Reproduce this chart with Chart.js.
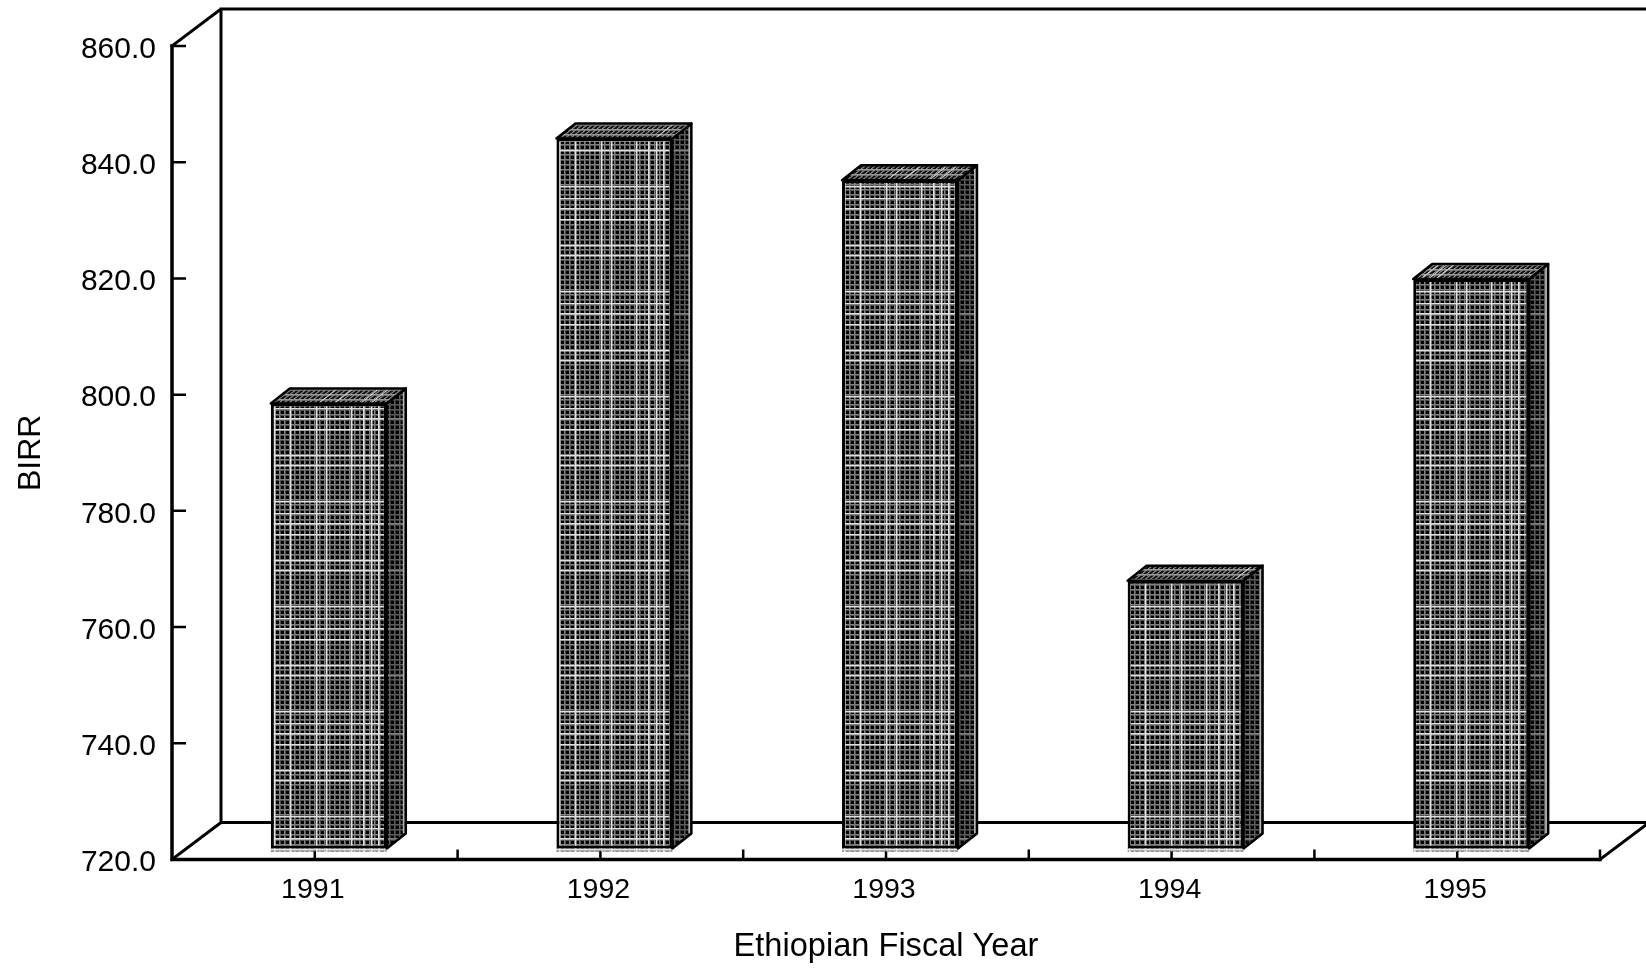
<!DOCTYPE html>
<html>
<head>
<meta charset="utf-8">
<style>html,body{margin:0;padding:0;background:#fff;overflow:hidden}canvas{display:block}</style>
<script src="https://cdn.jsdelivr.net/npm/chart.js@4/dist/chart.umd.min.js"></script>
</head>
<body>
<canvas id="c" width="1646" height="968"></canvas>
<script>
const categories = ['1991', '1992', '1993', '1994', '1995'];
const birrValues = [796.6, 842.2, 835.0, 766.1, 818.0];
const yTickMin = 720, yTickMax = 860, yTickStep = 20;
const yAxisTitle = 'BIRR';
const xAxisTitle = 'Ethiopian Fiscal Year';

const FONT = '"Liberation Sans", Arial, sans-serif';
const DX = 19, DY = -15, SHIFT_X = 14, SHIFT_Y = -11;
const WALL_DX = 49, WALL_DY = -37;

function makeWeave(base, dot, light, whiteXs, whiteYs, lineCol) {
  const cell = 5, w = 285, h = 105;
  const raw = document.createElement('canvas');
  raw.width = w; raw.height = h;
  const g = raw.getContext('2d');
  g.fillStyle = base; g.fillRect(0, 0, w, h);
  g.fillStyle = light;
  for (let x = 0; x < w; x += cell) g.fillRect(x, 0, 1, h);
  for (let y = 0; y < h; y += cell) g.fillRect(0, y, w, 1);
  g.fillStyle = dot;
  for (let x = 0; x < w; x += cell) for (let y = 0; y < h; y += cell) g.fillRect(x + 2, y + 2, 3, 3);
  g.fillStyle = lineCol;
  whiteXs.forEach(x => g.fillRect(x, 0, 1.5, h));
  whiteYs.forEach(y => g.fillRect(0, y, w, 1.5));
  const t = document.createElement('canvas');
  t.width = w; t.height = h;
  const f = t.getContext('2d');
  f.drawImage(raw, 0, 0);
  f.filter = 'blur(0.6px)';
  f.drawImage(raw, 0, 0);
  return f.createPattern(t, 'repeat');
}
const ctxMain = document.getElementById('c').getContext('2d');
const frontWeave = makeWeave('#4e4e4e', '#000', '#808080',
  [260, 276, 17, 27, 52, 64, 72, 79], [104, 9, 20, 46, 56, 92], '#e0e0e0');
const sideWeave = makeWeave('#343434', '#000', '#5c5c5c', [], [9, 56], '#808080');
const topWeave = makeWeave('#666666', '#111', '#999999', [260, 276, 17, 27, 52, 64, 72, 79], [], '#d8d8d8');
topWeave.setTransform(new DOMMatrix([1, 0, -1.27, 1, 0, 0]));

const frame3d = {
  id: 'frame3d',
  beforeDatasetsDraw(chart) {
    const { ctx, scales: { x, y }, chartArea: a } = chart;
    const half = (x.getPixelForValue(1) - x.getPixelForValue(0)) / 2;
    ctx.save();
    ctx.strokeStyle = '#000';
    ctx.lineCap = 'square';
    ctx.lineWidth = 3;
    const L = a.left, R = a.right, T = a.top, B = a.bottom;
    const back = new Path2D();
    back.moveTo(L, T); back.lineTo(L + WALL_DX, T + WALL_DY);
    back.lineTo(R + 100, T + WALL_DY);
    back.moveTo(L + WALL_DX, T + WALL_DY); back.lineTo(L + WALL_DX, B + WALL_DY);
    back.lineTo(R + 100, B + WALL_DY);
    back.moveTo(L, B); back.lineTo(L + WALL_DX, B + WALL_DY);
    back.moveTo(R, B); back.lineTo(R + WALL_DX, B + WALL_DY);
    ctx.stroke(back);
    ctx.lineWidth = 3.5;
    ctx.beginPath();
    ctx.moveTo(L, T); ctx.lineTo(L, B); ctx.lineTo(R, B);
    ctx.stroke();
    ctx.lineWidth = 2.5;
    ctx.lineCap = 'butt';
    ctx.beginPath();
    y.ticks.forEach(t => {
      const py = y.getPixelForValue(t.value);
      ctx.moveTo(L, py); ctx.lineTo(L + 14, py);
    });
    categories.forEach((c, i) => {
      const cx = x.getPixelForValue(i);
      ctx.moveTo(cx, B); ctx.lineTo(cx, B - 10);
      ctx.moveTo(cx + half, B); ctx.lineTo(cx + half, B - 10);
    });
    ctx.stroke();
    ctx.restore();
    ctx.save();
    ctx.translate(SHIFT_X, SHIFT_Y);
    chart.getDatasetMeta(0).data.forEach(bar => {
      const left = bar.x - bar.width / 2;
      ctx.fillStyle = frontWeave;
      ctx.globalAlpha = 0.85;
      ctx.fillRect(left, bar.base, bar.width, 3);
      ctx.globalAlpha = 1;
    });
  },
  afterDatasetsDraw(chart) {
    const ctx = chart.ctx;
    chart.getDatasetMeta(0).data.forEach(bar => {
      const l = bar.x - bar.width / 2, r = bar.x + bar.width / 2, t = bar.y, b = bar.base;
      ctx.lineJoin = 'round';
      ctx.strokeStyle = '#000';
      ctx.lineWidth = 2.5;
      ctx.beginPath();
      ctx.moveTo(r, t); ctx.lineTo(r + DX, t + DY); ctx.lineTo(r + DX, b + DY); ctx.lineTo(r, b); ctx.closePath();
      ctx.fillStyle = sideWeave; ctx.fill();
      ctx.fillStyle = '#b4b4b4';
      ctx.fillRect(r + DX - 3, t + DY + 3, 2, b - t - 3);
      ctx.stroke();
      ctx.beginPath();
      ctx.moveTo(l, t); ctx.lineTo(l + DX, t + DY); ctx.lineTo(r + DX, t + DY); ctx.lineTo(r, t); ctx.closePath();
      ctx.fillStyle = topWeave; ctx.fill();
      ctx.stroke();
    });
    ctx.restore();
  }
};

new Chart(ctxMain, {
  type: 'bar',
  data: {
    labels: categories,
    datasets: [{
      data: birrValues,
      base: yTickMin,
      backgroundColor: frontWeave,
      borderColor: '#000',
      borderWidth: 3,
      borderSkipped: false,
      barPercentage: 0.406,
      categoryPercentage: 1,
      clip: false
    }]
  },
  plugins: [frame3d],
  options: {
    responsive: false,
    animation: false,
    layout: { autoPadding: false, padding: { top: 46, right: 46, left: 0, bottom: 0 } },
    plugins: { legend: { display: false }, tooltip: { enabled: false }, title: { display: false } },
    scales: {
      x: {
        type: 'category',
        offset: true,
        afterFit(s) { s.height = 108.5; },
        grid: { display: false },
        border: { display: false },
        ticks: { color: '#000', font: { family: FONT, size: 28.5 }, padding: 6, labelOffset: -2, maxRotation: 0 },
        title: { display: true, text: xAxisTitle, color: '#000', font: { family: FONT, size: 32.6 }, padding: { top: 0, bottom: 1 } }
      },
      y: {
        min: yTickMin,
        max: yTickMax,
        afterFit(s) { s.width = 172; },
        grid: { display: false },
        border: { display: false },
        ticks: { stepSize: yTickStep, color: '#000', font: { family: FONT, size: 30 }, padding: 8, labelOffset: 3.5, callback: v => v.toFixed(1) },
        title: { display: true, text: yAxisTitle, color: '#000', font: { family: FONT, size: 32 }, padding: { top: 12, bottom: 0 } }
      }
    }
  }
});
</script>
</body>
</html>
